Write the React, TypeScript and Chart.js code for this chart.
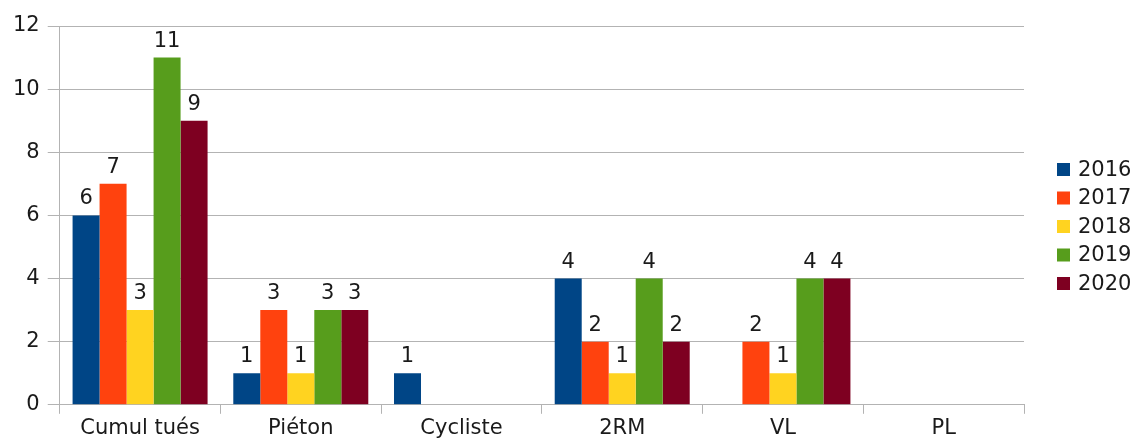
import React, { useEffect, useRef } from "react";
import { Chart, registerables } from "chart.js";

Chart.register(...registerables);

const categories = ["Cumul tués", "Piéton", "Cycliste", "2RM", "VL", "PL"];
const years = ["2016", "2017", "2018", "2019", "2020"];
const v2016 = [6, 1, 1, 4, 0, 0];
const v2017 = [7, 3, 0, 2, 2, 0];
const v2018 = [3, 1, 0, 1, 1, 0];
const v2019 = [11, 3, 0, 4, 4, 0];
const v2020 = [9, 3, 0, 2, 4, 0];
const seriesValues = [v2016, v2017, v2018, v2019, v2020];
const colors = ["#004586", "#ff420e", "#ffd320", "#579d1c", "#7e0021"];
const yTicks = [0, 2, 4, 6, 8, 10, 12];

const FONT = "'DejaVu Sans', 'Liberation Sans', sans-serif";
const TEXT = "#1a1a1a";

const valueLabels = {
  id: "valueLabels",
  afterDatasetsDraw(chart: any) {
    const ctx = chart.ctx;
    ctx.save();
    ctx.font = `21px ${FONT}`;
    ctx.fillStyle = TEXT;
    ctx.textAlign = "center";
    ctx.textBaseline = "alphabetic";
    chart.data.datasets.forEach((ds: any, i: number) => {
      const meta = chart.getDatasetMeta(i);
      meta.data.forEach((bar: any, j: number) => {
        const v = ds.data[j];
        if (!v) return;
        ctx.fillText(String(v), bar.x, bar.y - 11);
      });
    });
    ctx.restore();
  },
};

const sideLegend = {
  id: "sideLegend",
  afterDraw(chart: any) {
    const ctx = chart.ctx;
    const area = chart.chartArea;
    ctx.save();
    ctx.font = `21px ${FONT}`;
    ctx.textBaseline = "middle";
    ctx.textAlign = "left";
    const step = 28.5;
    const center = chart.height / 2 + 5;
    const n = years.length;
    years.forEach((y, i) => {
      const cy = center + (i - (n - 1) / 2) * step;
      const bx = area.right + 33;
      ctx.fillStyle = colors[i];
      ctx.fillRect(bx, cy - 6.5, 13, 13);
      ctx.fillStyle = TEXT;
      ctx.fillText(y, bx + 21, cy + 1);
    });
    ctx.restore();
  },
};

export default function App() {
  const ref = useRef<HTMLCanvasElement>(null);
  useEffect(() => {
    if (!ref.current) return;
    const chart = new Chart(ref.current, {
      type: "bar",
      data: {
        labels: categories,
        datasets: years.map((y, i) => ({
          label: y,
          data: seriesValues[i],
          backgroundColor: colors[i],
          borderWidth: 0,
          barPercentage: 1,
          categoryPercentage: 0.84,
        })),
      },
      options: {
        animation: false,
        responsive: true,
        maintainAspectRatio: false,
        layout: { padding: { left: 5, top: 26, right: 113, bottom: 0 } },
        plugins: {
          legend: { display: false },
          tooltip: { enabled: false },
        },
        scales: {
          x: {
            offset: true,
            grid: {
              offset: true,
              drawOnChartArea: false,
              drawTicks: true,
              tickLength: 9,
              color: "#b3b3b3",
            },
            border: { color: "#b3b3b3" },
            ticks: {
              color: TEXT,
              padding: 2,
              font: { family: FONT, size: 21 },
              maxRotation: 0,
            },
          },
          y: {
            min: 0,
            max: 12,
            afterBuildTicks: (axis: any) => {
              axis.ticks = yTicks.map((v) => ({ value: v }));
            },
            grid: { color: "#b3b3b3", tickLength: 12 },
            border: { color: "#b3b3b3" },
            ticks: {
              color: TEXT,
              padding: 8,
              font: { family: FONT, size: 21 },
            },
          },
        },
      },
      plugins: [valueLabels, sideLegend],
    });
    return () => chart.destroy();
  }, []);
  return (
    <div style={{ position: "fixed", left: 0, top: 0, width: 1137, height: 443, background: "#fff" }}>
      <canvas ref={ref} />
    </div>
  );
}
